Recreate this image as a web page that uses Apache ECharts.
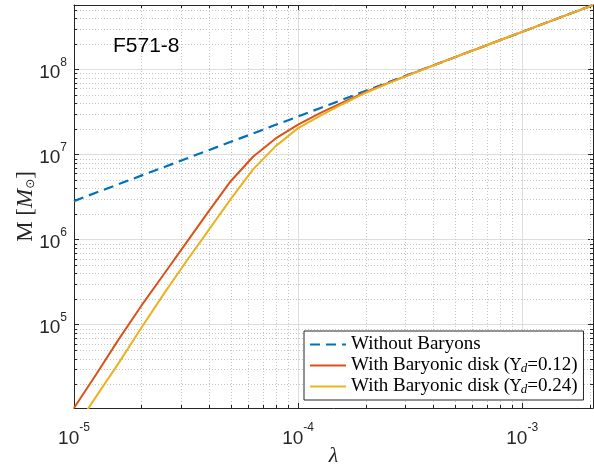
<!DOCTYPE html>
<html>
<head>
<meta charset="utf-8">
<script src="https://cdn.jsdelivr.net/npm/echarts@6/dist/echarts.min.js"></script>
<style>html,body{margin:0;padding:0;background:#fff;}#c{width:594px;height:472px;}</style>
</head>
<body>
<div id="c"></div>
<script>
// ---- data ----
const lambdaVals = [1.000e-5, 1.259e-5, 1.585e-5, 1.995e-5, 2.512e-5, 3.162e-5, 3.981e-5, 5.012e-5, 6.310e-5, 7.943e-5,
  1.000e-4, 1.259e-4, 1.585e-4, 1.995e-4, 2.512e-4, 3.162e-4, 3.981e-4, 5.012e-4, 6.310e-4, 7.943e-4,
  1.000e-3, 1.259e-3, 1.585e-3, 1.995e-3, 2.07e-3];
const massNoBaryons = [2.84e6, 3.58e6, 4.50e6, 5.66e6, 7.11e6, 8.95e6, 1.125e7, 1.416e7, 1.778e7, 2.24e7,
  2.81e7, 3.54e7, 4.45e7, 5.60e7, 7.03e7, 8.85e7, 1.112e8, 1.40e8, 1.758e8, 2.21e8,
  2.78e8, 3.50e8, 4.40e8, 5.53e8, 5.75e8];
const massDisk012 = [1.047e4, 2.63e4, 6.76e4, 1.66e5, 3.89e5, 9.12e5, 2.14e6, 4.90e6, 9.51e6, 1.55e7,
  2.25e7, 3.09e7, 4.12e7, 5.43e7, 6.92e7, 8.77e7, 1.112e8, 1.40e8, 1.758e8, 2.21e8,
  2.78e8, 3.50e8, 4.40e8, 5.53e8, 5.75e8];
const massDisk024 = [5.75e3, 1.445e4, 3.55e4, 9.12e4, 2.29e5, 5.50e5, 1.288e6, 3.02e6, 6.76e6, 1.259e7,
  2.05e7, 2.88e7, 3.94e7, 5.31e7, 6.84e7, 8.71e7, 1.104e8, 1.40e8, 1.758e8, 2.21e8,
  2.78e8, 3.50e8, 4.40e8, 5.53e8, 5.75e8];
const seriesNames = ['Without Baryons', 'With Baryonic disk 0.12', 'With Baryonic disk 0.24'];
const xMin = 1e-5, xMax = 2.07e-3, yMin = 1.047e4, yMax = 5.75e8;
const xMinorTicks = [2e-5,3e-5,4e-5,5e-5,6e-5,7e-5,8e-5,9e-5, 2e-4,3e-4,4e-4,5e-4,6e-4,7e-4,8e-4,9e-4, 2e-3];
const yMinorTicks = [2e4,3e4,4e4,5e4,6e4,7e4,8e4,9e4, 2e5,3e5,4e5,5e5,6e5,7e5,8e5,9e5,
  2e6,3e6,4e6,5e6,6e6,7e6,8e6,9e6, 2e7,3e7,4e7,5e7,6e7,7e7,8e7,9e7, 2e8,3e8,4e8,5e8];
const chartLabel = 'F571-8';

// ---- helpers ----
const pair = (xs, ys) => xs.map((x, i) => [x, ys[i]]);
const AX = '#262626';
function powLabel(v) {
  const e = Math.log10(v);
  const r = Math.round(e);
  if (Math.abs(e - r) > 1e-6) return '';
  return '{b|10}{s|' + r + '}';
}
const tickRich = {
  b: { fontSize: 19, fontFamily: 'Liberation Sans', color: AX, lineHeight: 26, verticalAlign: 'bottom' },
  s: { fontSize: 12, fontFamily: 'Liberation Sans', color: AX, lineHeight: 12, verticalAlign: 'top' }
};
const minorStroke = '#c6c6c6';
function renderXMinor(params, api) {
  const cs = params.coordSys;
  const p = api.coord([api.value(0), api.value(1)]);
  const x = Math.round(p[0]) + 0.5;
  return { type: 'group', children: [
    { type: 'line', shape: { x1: x, y1: cs.y, x2: x, y2: cs.y + cs.height }, style: { stroke: minorStroke, lineWidth: 1, lineDash: [1, 2] } },
    { type: 'line', shape: { x1: x, y1: cs.y + cs.height, x2: x, y2: cs.y + cs.height - 3 }, style: { stroke: AX, lineWidth: 1 } },
    { type: 'line', shape: { x1: x, y1: cs.y, x2: x, y2: cs.y + 3 }, style: { stroke: AX, lineWidth: 1 } }
  ]};
}
function renderYMinor(params, api) {
  const cs = params.coordSys;
  const p = api.coord([api.value(0), api.value(1)]);
  const y = Math.round(p[1]) + 0.5;
  return { type: 'group', children: [
    { type: 'line', shape: { x1: cs.x, y1: y, x2: cs.x + cs.width, y2: y }, style: { stroke: minorStroke, lineWidth: 1, lineDash: [1, 2] } },
    { type: 'line', shape: { x1: cs.x, y1: y, x2: cs.x + 3, y2: y }, style: { stroke: AX, lineWidth: 1 } },
    { type: 'line', shape: { x1: cs.x + cs.width, y1: y, x2: cs.x + cs.width - 3, y2: y }, style: { stroke: AX, lineWidth: 1 } }
  ]};
}
const legendText = {
  'Without Baryons': '{n|Without Baryons}',
  'With Baryonic disk 0.12': '{n|With Baryonic disk (}{u|\u03A5}{d|d}{n|=0.12)}',
  'With Baryonic disk 0.24': '{n|With Baryonic disk (}{u|\u03A5}{d|d}{n|=0.24)}'
};

const chart = echarts.init(document.getElementById('c'), null, { renderer: 'canvas' });
const commonAxis = (extra) => Object.assign({
  type: 'log', logBase: 10,
  axisLine: { show: true, lineStyle: { color: AX, width: 1 } },
  axisTick: { show: true, inside: true, length: 5, lineStyle: { color: AX } },
  minorTick: { show: false },
}, extra);
chart.setOption({
  animation: false,
  backgroundColor: '#fff',
  title: {
    text: chartLabel, left: 108, top: 31,
    textStyle: { fontFamily: 'Liberation Sans', fontSize: 21, fontWeight: 'normal', color: '#000' }
  },
  grid: { left: 74, right: 1, top: 5, bottom: 64, containLabel: false, outerBoundsMode: 'none' },
  legend: {
    data: seriesNames,
    orient: 'vertical',
    left: 304, top: 331,
    padding: [4, 6, 4, 5],
    itemWidth: 36, itemHeight: 14, itemGap: 2,
    backgroundColor: '#fff',
    borderColor: AX, borderWidth: 1, borderRadius: 0,
    itemStyle: { opacity: 0 },
    formatter: (n) => legendText[n],
    textStyle: {
      color: '#000',
      rich: {
        n: { fontFamily: 'Liberation Serif', fontSize: 19, lineHeight: 19, color: '#000' },
        u: { fontFamily: 'DejaVu Serif', fontSize: 16, lineHeight: 19, color: '#000' },
        d: { fontFamily: 'Liberation Serif', fontStyle: 'italic', fontSize: 13, lineHeight: 13, verticalAlign: 'bottom', color: '#000' }
      }
    }
  },
  xAxis: [
    commonAxis({
      min: xMin, max: xMax, position: 'bottom',
      splitLine: { show: true, lineStyle: { color: '#dedede', width: 1 } },
      axisLabel: { show: true, margin: 14, fontSize: 19, formatter: powLabel, rich: tickRich, hideOverlap: false, showMinLabel: true, showMaxLabel: true },
      name: '\u03BB', nameLocation: 'middle', nameGap: 37, nameMoveOverlap: false,
      nameTextStyle: { fontFamily: 'Liberation Serif', fontStyle: 'italic', fontSize: 22, color: AX }
    }),
    commonAxis({
      min: xMin, max: xMax, position: 'top',
      splitLine: { show: false }, axisLabel: { show: false }
    })
  ],
  yAxis: [
    commonAxis({
      min: yMin, max: yMax, position: 'left',
      splitLine: { show: true, lineStyle: { color: '#dedede', width: 1 } },
      axisLabel: { show: true, margin: 7, fontSize: 19, formatter: powLabel, rich: tickRich, hideOverlap: false },
      name: '{n|M }{n|[}{i|M}{s|\u2299}{n|]}', nameLocation: 'middle', nameGap: 37, nameMoveOverlap: false,
      nameTextStyle: {
        color: AX,
        rich: {
          n: { fontFamily: 'Liberation Serif', fontSize: 23, lineHeight: 24, color: AX, verticalAlign: 'bottom' },
          i: { fontFamily: 'Liberation Serif', fontStyle: 'italic', fontSize: 23, lineHeight: 24, color: AX, verticalAlign: 'bottom' },
          s: { fontFamily: 'DejaVu Sans', fontSize: 12, lineHeight: 12, color: AX, verticalAlign: 'bottom' }
        }
      }
    }),
    commonAxis({
      min: yMin, max: yMax, position: 'right',
      splitLine: { show: false }, axisLabel: { show: false }
    })
  ],
  series: [
    { type: 'custom', silent: true, xAxisIndex: 0, yAxisIndex: 0, renderItem: renderXMinor,
      encode: { x: 0, y: 1 }, data: xMinorTicks.map(v => [v, yMin]), z: 1 },
    { type: 'custom', silent: true, xAxisIndex: 0, yAxisIndex: 0, renderItem: renderYMinor,
      encode: { x: 0, y: 1 }, data: yMinorTicks.map(v => [xMin, v]), z: 1 },
    { name: seriesNames[0], type: 'line', data: pair(lambdaVals, massNoBaryons), symbol: 'none', z: 3,
      lineStyle: { color: '#0072BD', width: 2.2, type: [10, 6] }, itemStyle: { color: '#0072BD' } },
    { name: seriesNames[1], type: 'line', data: pair(lambdaVals, massDisk012), symbol: 'none', z: 4,
      lineStyle: { color: '#D95319', width: 2 }, itemStyle: { color: '#D95319' } },
    { name: seriesNames[2], type: 'line', data: pair(lambdaVals, massDisk024), symbol: 'none', z: 5,
      lineStyle: { color: '#EDB120', width: 2 }, itemStyle: { color: '#EDB120' } }
  ]
});
</script>
</body>
</html>
